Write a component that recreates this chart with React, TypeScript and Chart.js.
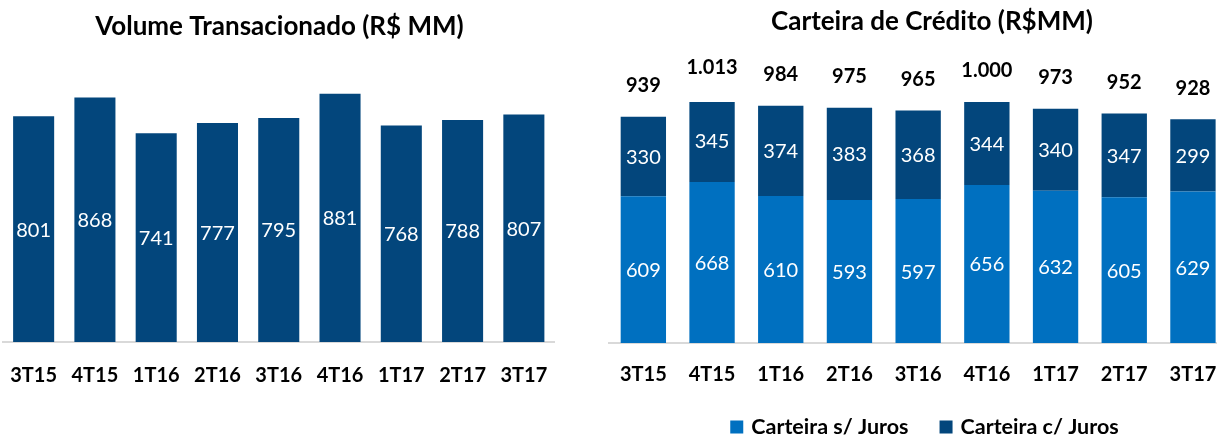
import React, { useEffect, useRef } from "react";
import { Chart, registerables } from "chart.js";

Chart.register(...registerables);

const quarters = ["3T15", "4T15", "1T16", "2T16", "3T16", "4T16", "1T17", "2T17", "3T17"];
const volume = [801, 868, 741, 777, 795, 881, 768, 788, 807];
const semJuros = [609, 668, 610, 593, 597, 656, 632, 605, 629];
const comJuros = [330, 345, 374, 383, 368, 344, 340, 347, 299];
const totals = [939, 1013, 984, 975, 965, 1000, 973, 952, 928];

const DARK = "#03467C";
const LIGHT = "#0070C0";
const FONT = "Lato, 'Open Sans', sans-serif";

function fmt(n: number): string {
  return String(n).replace(/\B(?=(\d{3})+(?!\d))/g, ".");
}

const insideLabels = {
  id: "insideLabels",
  afterDatasetsDraw(chart: any) {
    const ctx = chart.ctx;
    ctx.save();
    ctx.font = `400 20px ${FONT}`;
    ctx.fillStyle = "#ffffff";
    ctx.textAlign = "center";
    ctx.textBaseline = "middle";
    chart.data.datasets.forEach((ds: any, i: number) => {
      const meta = chart.getDatasetMeta(i);
      meta.data.forEach((bar: any, j: number) => {
        const { x, y, base } = bar.getProps(["x", "y", "base"], true);
        ctx.fillText(String(ds.data[j]), x, (y + base) / 2 + 1);
      });
    });
    ctx.restore();
  },
};

function makeTitle(text: string, cx: number, cy: number, size: number) {
  return {
    id: "customTitle",
    afterDraw(chart: any) {
      const ctx = chart.ctx;
      ctx.save();
      ctx.font = `700 ${size}px ${FONT}`;
      ctx.fillStyle = "#000000";
      ctx.textAlign = "center";
      ctx.textBaseline = "middle";
      ctx.fillText(text, cx, cy);
      ctx.restore();
    },
  };
}

const totalLabels = {
  id: "totalLabels",
  afterDatasetsDraw(chart: any) {
    const ctx = chart.ctx;
    const n = chart.data.datasets.length;
    const topMeta = chart.getDatasetMeta(n - 1);
    ctx.save();
    ctx.font = `700 20px ${FONT}`;
    ctx.fillStyle = "#000000";
    ctx.textAlign = "center";
    ctx.textBaseline = "middle";
    topMeta.data.forEach((bar: any, j: number) => {
      const { x, y } = bar.getProps(["x", "y"], true);
      ctx.fillText(fmt(totals[j]), x, y - 31);
    });
    ctx.restore();
  },
};

function makeLegend(cx: number, cy: number) {
  return {
    id: "customLegend",
    afterDraw(chart: any) {
      const ctx = chart.ctx;
      ctx.save();
      ctx.font = `700 21.5px ${FONT}`;
      ctx.textBaseline = "middle";
      ctx.textAlign = "left";
      const box = 13;
      const gapText = 8;
      const gapItem = 31;
      const items = chart.data.datasets.map((ds: any) => ({
        label: ds.label as string,
        color: ds.backgroundColor as string,
        w: ctx.measureText(ds.label).width,
      }));
      let total = 0;
      items.forEach((it: any, i: number) => {
        total += box + gapText + it.w + (i > 0 ? gapItem : 0);
      });
      let x = cx - total / 2;
      items.forEach((it: any) => {
        ctx.fillStyle = it.color;
        ctx.fillRect(x, cy - box / 2, box, box);
        ctx.fillStyle = "#000000";
        ctx.fillText(it.label, x + box + gapText, cy);
        x += box + gapText + it.w + gapItem;
      });
      ctx.restore();
    },
  };
}

function xAxis(padding: number) {
  return {
    stacked: true,
    grid: { display: false, drawTicks: false },
    border: { display: true, color: "#D9D9D9", width: 2 },
    ticks: {
      color: "#000000",
      font: { family: FONT, size: 20, weight: "bold" as const },
      padding,
      maxRotation: 0,
      autoSkip: false,
    },
    afterFit(scale: any) {
      scale.paddingLeft = 0;
      scale.paddingRight = 0;
    },
  };
}

function VolumeChart() {
  const ref = useRef<HTMLCanvasElement | null>(null);
  useEffect(() => {
    if (!ref.current) return;
    const chart = new Chart(ref.current, {
      type: "bar",
      data: {
        labels: quarters,
        datasets: [
          {
            label: "Volume Transacionado",
            data: volume,
            backgroundColor: DARK,
            barPercentage: 0.67,
            categoryPercentage: 1,
          },
        ],
      },
      options: {
        responsive: false,
        animation: false,
        layout: { padding: { top: 60.2, left: 3, right: 5.5, bottom: 26 } },
        plugins: { legend: { display: false }, tooltip: { enabled: false } },
        scales: {
          x: xAxis(22),
          y: { display: false, min: 0, max: 1000 },
        },
      },
      plugins: [insideLabels, makeTitle("Volume Transacionado (R$ MM)", 279.5, 27, 26)],
    });
    return () => chart.destroy();
  }, []);
  return (
    <canvas
      ref={ref}
      width={560}
      height={436}
      style={{ position: "absolute", left: 0, top: 0, width: 560, height: 436 }}
    />
  );
}

function CreditChart() {
  const ref = useRef<HTMLCanvasElement | null>(null);
  useEffect(() => {
    if (!ref.current) return;
    const chart = new Chart(ref.current, {
      type: "bar",
      data: {
        labels: quarters,
        datasets: [
          {
            label: "Carteira s/ Juros",
            data: semJuros,
            backgroundColor: LIGHT,
            barPercentage: 0.66,
            categoryPercentage: 1,
          },
          {
            label: "Carteira c/ Juros",
            data: comJuros,
            backgroundColor: DARK,
            barPercentage: 0.66,
            categoryPercentage: 1,
          },
        ],
      },
      options: {
        responsive: false,
        animation: false,
        layout: { padding: { top: 102, left: 9, right: 2.7, bottom: 29 } },
        plugins: { legend: { display: false }, tooltip: { enabled: false } },
        scales: {
          x: xAxis(20),
          y: { display: false, stacked: true, min: 0, max: 1000 },
        },
      },
      plugins: [
        insideLabels,
        totalLabels,
        makeTitle("Carteira de Crédito (R$MM)", 332, 22, 26),
        makeLegend(324.5, 427),
      ],
    });
    return () => chart.destroy();
  }, []);
  return (
    <canvas
      ref={ref}
      width={630}
      height={436}
      style={{ position: "absolute", left: 600, top: 0, width: 630, height: 436 }}
    />
  );
}

export default function App() {
  return (
    <div
      style={{
        position: "fixed",
        left: 0,
        top: 0,
        width: 1217,
        height: 436,
        overflow: "hidden",
        background: "#ffffff",
      }}
    >
      <VolumeChart />
      <CreditChart />
    </div>
  );
}
